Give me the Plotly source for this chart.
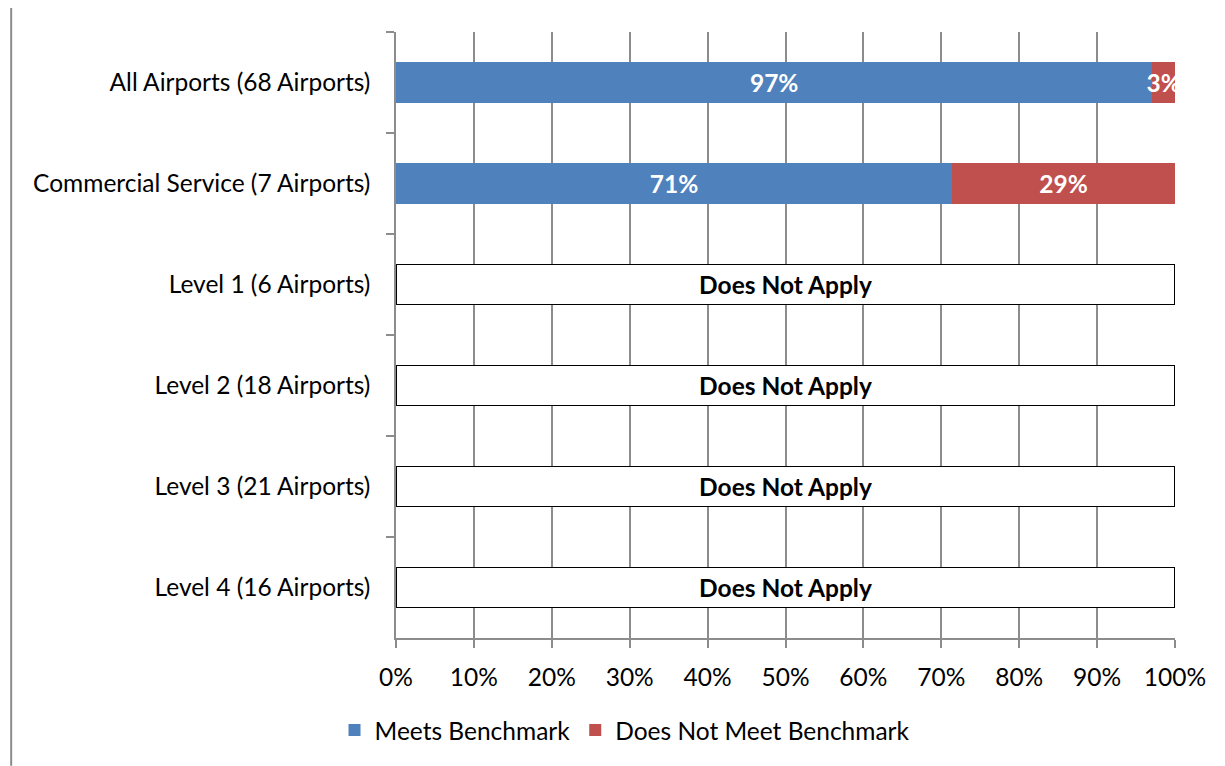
import plotly.graph_objects as go

categories = ["All Airports (68 Airports)", "Commercial Service (7 Airports)",
              "Level 1 (6 Airports)", "Level 2 (18 Airports)",
              "Level 3 (21 Airports)", "Level 4 (16 Airports)"]
meets = [97.1, 71.4, None, None, None, None]
meets_text = ["97%", "71%", "", "", "", ""]
not_meets = [2.9, 28.6, None, None, None, None]
not_meets_text = ["3%", "29%", "", "", "", ""]
does_not_apply = [None, None, 100, 100, 100, 100]
dna_text = ["", "", "Does Not Apply", "Does Not Apply", "Does Not Apply", "Does Not Apply"]
x_ticks = [0, 10, 20, 30, 40, 50, 60, 70, 80, 90, 100]
x_tick_labels = ["0%", "10%", "20%", "30%", "40%", "50%", "60%", "70%", "80%", "90%", "100%"]

FONT = "Lato"
FS = 24.5
GRID = "#8c8c8c"

fig = go.Figure()
fig.add_trace(go.Bar(
    y=categories, x=meets, orientation="h", name="Meets Benchmark",
    marker=dict(color="#4f81bd", line=dict(width=0)),
    text=meets_text, textposition="inside", insidetextanchor="middle",
    constraintext="none", cliponaxis=False, textangle=0,
    textfont=dict(family=FONT, size=FS, color="white", weight="bold"),
    width=0.4,
))
fig.add_trace(go.Bar(
    y=categories, x=not_meets, orientation="h", name="Does Not Meet Benchmark",
    marker=dict(color="#c0504d", line=dict(width=0)),
    text=not_meets_text, textposition="inside", insidetextanchor="middle",
    constraintext="none", cliponaxis=False, textangle=0,
    textfont=dict(family=FONT, size=FS, color="white", weight="bold"),
    width=0.4,
))
fig.add_trace(go.Bar(
    y=categories, x=does_not_apply, orientation="h", name="Does Not Apply",
    showlegend=False,
    marker=dict(color="white", line=dict(width=1.5, color="black")),
    text=dna_text, textposition="inside", insidetextanchor="middle",
    constraintext="none", textangle=0,
    textfont=dict(family=FONT, size=FS, color="black", weight="bold"),
    width=0.4,
))

fig.update_layout(
    width=1217, height=758,
    margin=dict(l=388, r=50, t=24, b=128),
    barmode="stack",
    plot_bgcolor="white", paper_bgcolor="white",
    font=dict(family=FONT, size=FS, color="black"),
    showlegend=True,
    legend=dict(orientation="h", x=0.294, xanchor="center", y=-0.152, yanchor="middle",
                font=dict(family=FONT, size=FS), itemwidth=30, traceorder="normal"),
    xaxis=dict(range=[0, 100], tickvals=x_ticks, ticktext=x_tick_labels,
               showgrid=True, gridcolor=GRID, gridwidth=1.5,
               showline=True, linecolor=GRID, linewidth=1.5,
               ticks="outside", ticklen=8, tickcolor=GRID, tickwidth=1.5,
               ticklabelstandoff=9, zeroline=False, fixedrange=True),
    yaxis=dict(autorange="reversed", showgrid=False,
               showline=True, linecolor=GRID, linewidth=1.5,
               ticks="outside", tickson="boundaries", ticklen=8, tickcolor=GRID, tickwidth=1.5,
               ticklabelstandoff=19),
    shapes=[dict(type="line", xref="paper", yref="paper",
                 x0=-0.494, x1=-0.494, y0=1.048, y1=-0.211,
                 line=dict(color="#8c8c8c", width=2))],
)

fig.write_html("out.html")
